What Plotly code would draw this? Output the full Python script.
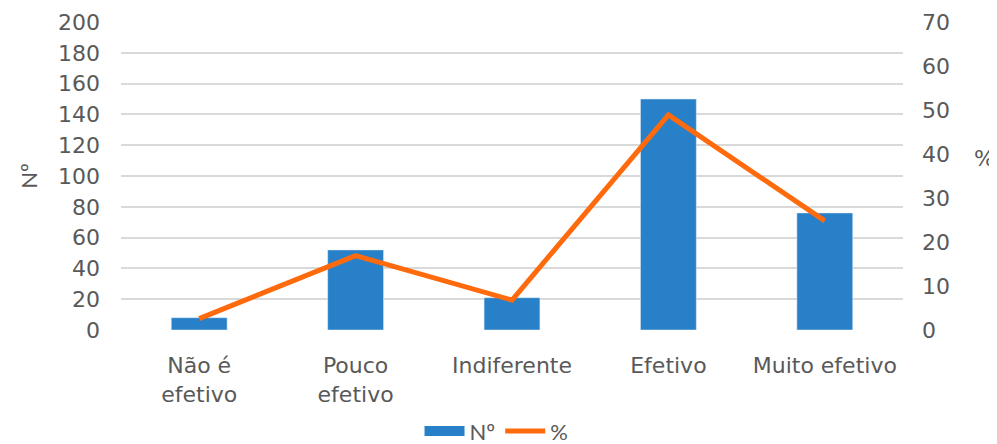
import plotly.graph_objects as go

# ----- Data ----- #
categorias = ["Não é<br>efetivo", "Pouco<br>efetivo", "Indiferente", "Efetivo", "Muito efetivo"]
numero = [8, 52, 21, 150, 76]
percentual = [2.6, 16.9, 6.8, 48.9, 24.8]

colors = {
    'bar': '#2880C8',
    'line': '#FF6A0D',
    'text': '#595959',
    'grid': '#D9D9D9'
}
fonte = "DejaVu Sans"

fig = go.Figure()

fig.add_trace(go.Bar(x=categorias, y=numero, name="Nº", marker_color=colors['bar'],
                     yaxis='y', showlegend=False))
# legend swatch drawn as a thick line so it looks like the wide Excel rectangle
fig.add_trace(go.Scatter(x=[None], y=[None], name="Nº", mode='lines',
                         line=dict(color=colors['bar'], width=14)))
fig.add_trace(go.Scatter(x=categorias, y=percentual, name="%", mode='lines',
                         line=dict(color=colors['line'], width=5), yaxis='y2'))

fig.update_layout(
    width=997, height=444,
    margin=dict(l=113, r=102, t=14, b=122, autoexpand=False),
    plot_bgcolor='white', paper_bgcolor='white',
    font=dict(family=fonte, size=22, color=colors['text']),
    bargap=0.643,
    showlegend=True,
    legend=dict(orientation='h', x=0.49, xanchor='center', xref='container',
                y=0.047, yanchor='middle', yref='container',
                font=dict(family="Lato", size=22), tracegroupgap=0, itemwidth=40),
    xaxis=dict(showgrid=False, ticks='', automargin=False, ticklabelstandoff=20),
    yaxis=dict(range=[0, 200], dtick=20, showgrid=True, gridcolor=colors['grid'], gridwidth=1.5,
               zeroline=False, ticks='', ticklabelstandoff=20, automargin=False,
               title=dict(text="Nº", standoff=14, font=dict(family="Lato", size=22))),
    yaxis2=dict(range=[0, 70], dtick=10, overlaying='y', side='right', showgrid=False,
                zeroline=False, ticks='', ticklabelstandoff=18, automargin=False),
)

fig.add_annotation(text="%", xref='paper', yref='paper', x=1.104, y=0.558,
                   showarrow=False, font=dict(size=22, color=colors['text']), xanchor='center')

fig.write_html("out.html")
